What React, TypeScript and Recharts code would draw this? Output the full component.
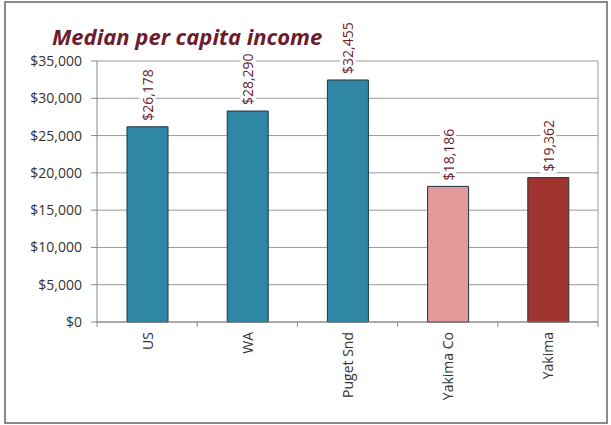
import React from "react";
import { BarChart, Bar, XAxis, YAxis, CartesianGrid, LabelList, Cell } from "recharts";

const places = ["US", "WA", "Puget Snd", "Yakima Co", "Yakima"];
const income = [26178, 28290, 32455, 18186, 19362];
const barColors = ["#2f86a5", "#2f86a5", "#2f86a5", "#e39a9a", "#a0352f"];
const yTicks = [0, 5000, 10000, 15000, 20000, 25000, 30000, 35000];

const data = places.map((place, i) => ({ place, income: income[i] }));

const W = 611;
const H = 425;
const PLOT_LEFT = 97;
const PLOT_RIGHT = 598;
const PLOT_TOP = 61;
const PLOT_BOTTOM = 322;
const BAND = (PLOT_RIGHT - PLOT_LEFT) / places.length;
const FONT = "'Open Sans', 'DejaVu Sans', sans-serif";

const money = (v: number) => "$" + v.toLocaleString("en-US");

const XTick = (props: any) => {
    const { x, payload, index } = props;
    const left = x - BAND / 2;
    return (
        <g>
            <line x1={left} y1={PLOT_BOTTOM} x2={left} y2={PLOT_BOTTOM + 5} stroke="#888" />
            {index === places.length - 1 && (
                <line x1={x + BAND / 2} y1={PLOT_BOTTOM} x2={x + BAND / 2} y2={PLOT_BOTTOM + 5} stroke="#888" />
            )}
            <text
                transform={`translate(${x}, ${PLOT_BOTTOM + 10}) rotate(-90)`}
                textAnchor="end"
                dominantBaseline="central"
                fontSize={14}
                fontFamily={FONT}
                fill="#333"
            >
                {payload.value}
            </text>
        </g>
    );
};

const ValueLabel = (props: any) => {
    const { x, y, width, value } = props;
    const text = money(value);
    const len = text.length * 8 + 4;
    return (
        <g transform={`translate(${x + width / 2}, ${y - 6}) rotate(-90)`}>
            <rect x={-2} y={-8} width={len} height={16} fill="#fff" />
            <text x={0} y={0} textAnchor="start" dominantBaseline="central" fontSize={14} fontFamily={FONT} fill="#6d1b2e">
                {text}
            </text>
        </g>
    );
};

export default function App() {
    return (
        <div style={{ position: "absolute", left: 0, top: 0, width: W, height: H, background: "#fff" }}>
            <div
                style={{
                    position: "absolute",
                    left: 4,
                    top: 1,
                    width: 600,
                    height: 419,
                    border: "2px solid #8a8a8a",
                }}
            />
            <div style={{ position: "absolute", left: 0, top: 0 }}>
                <BarChart
                    width={W}
                    height={H}
                    data={data}
                    margin={{ top: PLOT_TOP, right: W - PLOT_RIGHT, bottom: 0, left: 0 }}
                    barSize={41}
                >
                    <CartesianGrid
                        stroke="#999"
                        verticalCoordinatesGenerator={() => [PLOT_RIGHT]}
                    />
                    <XAxis
                        dataKey="place"
                        interval={0}
                        height={H - PLOT_BOTTOM}
                        axisLine={{ stroke: "#888" }}
                        tickLine={false}
                        tick={<XTick />}
                    />
                    <YAxis
                        width={PLOT_LEFT}
                        domain={[0, 35000]}
                        ticks={yTicks}
                        tickFormatter={money}
                        axisLine={{ stroke: "#888" }}
                        tickLine={{ stroke: "#888" }}
                        tickSize={6}
                        tickMargin={9}
                        tick={{ fontSize: 14, fontFamily: FONT, fill: "#333" }}
                    />
                    <Bar dataKey="income" stroke="#1f3242" strokeWidth={1} isAnimationActive={false}>
                        {data.map((d, i) => (
                            <Cell key={d.place} fill={barColors[i]} />
                        ))}
                        <LabelList dataKey="income" content={<ValueLabel />} />
                    </Bar>
                </BarChart>
            </div>
            <div
                style={{
                    position: "absolute",
                    left: 52,
                    top: 21,
                    fontFamily: FONT,
                    fontWeight: 700,
                    fontStyle: "italic",
                    fontSize: 22,
                    color: "#6d1b2e",
                    whiteSpace: "nowrap",
                }}
            >
                Median per capita income
            </div>
        </div>
    );
}
